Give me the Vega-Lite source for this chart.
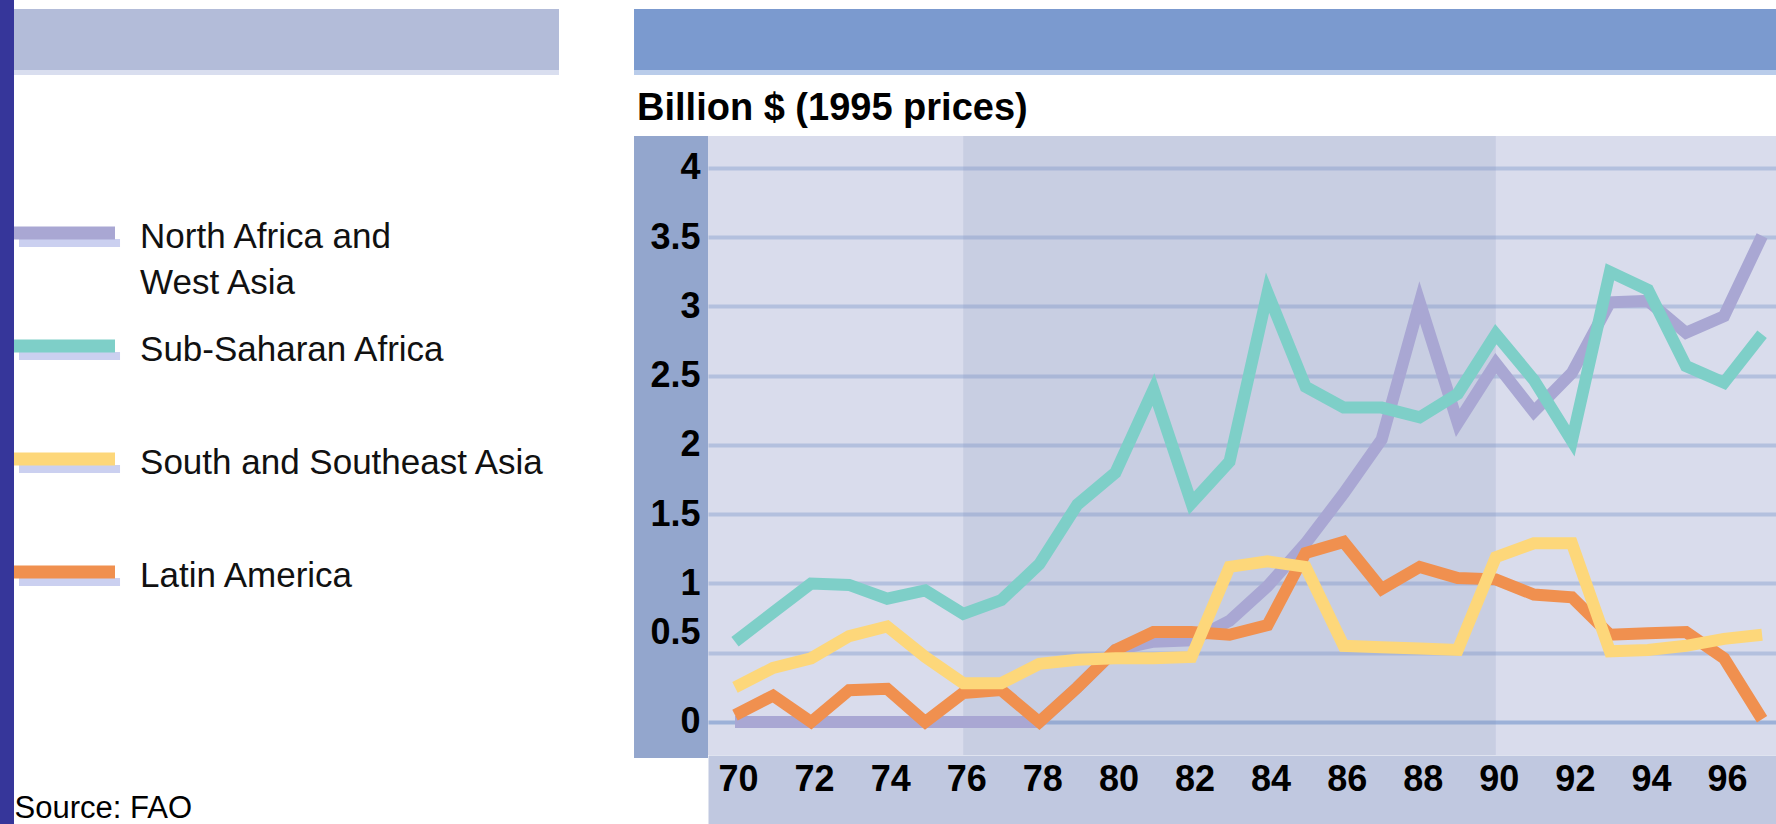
{
  "$schema": "https://vega.github.io/schema/vega-lite/v6.json",
  "autosize": {"type": "none"},
  "padding": {"left": 708, "top": 136, "right": 0, "bottom": 69},
  "width": 1068,
  "height": 619,
  "background": "white",
  "config": {"view": {"stroke": null, "fill": "#D9DCEC"}, "font": "Liberation Sans"},
  "datasets": {
    "exports": [
      {"year": 70, "region": "North Africa and West Asia", "value": 0},
      {"year": 71, "region": "North Africa and West Asia", "value": 0},
      {"year": 72, "region": "North Africa and West Asia", "value": 0},
      {"year": 73, "region": "North Africa and West Asia", "value": 0},
      {"year": 74, "region": "North Africa and West Asia", "value": 0},
      {"year": 75, "region": "North Africa and West Asia", "value": 0},
      {"year": 76, "region": "North Africa and West Asia", "value": 0},
      {"year": 77, "region": "North Africa and West Asia", "value": 0},
      {"year": 78, "region": "North Africa and West Asia", "value": 0},
      {"year": 79, "region": "North Africa and West Asia", "value": 0.25},
      {"year": 80, "region": "North Africa and West Asia", "value": 0.52},
      {"year": 81, "region": "North Africa and West Asia", "value": 0.58},
      {"year": 82, "region": "North Africa and West Asia", "value": 0.59},
      {"year": 83, "region": "North Africa and West Asia", "value": 0.73},
      {"year": 84, "region": "North Africa and West Asia", "value": 0.98},
      {"year": 85, "region": "North Africa and West Asia", "value": 1.29},
      {"year": 86, "region": "North Africa and West Asia", "value": 1.65},
      {"year": 87, "region": "North Africa and West Asia", "value": 2.04},
      {"year": 88, "region": "North Africa and West Asia", "value": 3.03},
      {"year": 89, "region": "North Africa and West Asia", "value": 2.16},
      {"year": 90, "region": "North Africa and West Asia", "value": 2.59},
      {"year": 91, "region": "North Africa and West Asia", "value": 2.24},
      {"year": 92, "region": "North Africa and West Asia", "value": 2.52},
      {"year": 93, "region": "North Africa and West Asia", "value": 3.03},
      {"year": 94, "region": "North Africa and West Asia", "value": 3.04},
      {"year": 95, "region": "North Africa and West Asia", "value": 2.81},
      {"year": 96, "region": "North Africa and West Asia", "value": 2.93},
      {"year": 97, "region": "North Africa and West Asia", "value": 3.51},
      {"year": 70, "region": "Sub-Saharan Africa", "value": 0.58},
      {"year": 71, "region": "Sub-Saharan Africa", "value": 0.79},
      {"year": 72, "region": "Sub-Saharan Africa", "value": 1.0},
      {"year": 73, "region": "Sub-Saharan Africa", "value": 0.99},
      {"year": 74, "region": "Sub-Saharan Africa", "value": 0.89},
      {"year": 75, "region": "Sub-Saharan Africa", "value": 0.95},
      {"year": 76, "region": "Sub-Saharan Africa", "value": 0.78},
      {"year": 77, "region": "Sub-Saharan Africa", "value": 0.88},
      {"year": 78, "region": "Sub-Saharan Africa", "value": 1.14},
      {"year": 79, "region": "Sub-Saharan Africa", "value": 1.57},
      {"year": 80, "region": "Sub-Saharan Africa", "value": 1.8},
      {"year": 81, "region": "Sub-Saharan Africa", "value": 2.4},
      {"year": 82, "region": "Sub-Saharan Africa", "value": 1.58},
      {"year": 83, "region": "Sub-Saharan Africa", "value": 1.88},
      {"year": 84, "region": "Sub-Saharan Africa", "value": 3.1},
      {"year": 85, "region": "Sub-Saharan Africa", "value": 2.42},
      {"year": 86, "region": "Sub-Saharan Africa", "value": 2.27},
      {"year": 87, "region": "Sub-Saharan Africa", "value": 2.27},
      {"year": 88, "region": "Sub-Saharan Africa", "value": 2.2},
      {"year": 89, "region": "Sub-Saharan Africa", "value": 2.37},
      {"year": 90, "region": "Sub-Saharan Africa", "value": 2.8},
      {"year": 91, "region": "Sub-Saharan Africa", "value": 2.47},
      {"year": 92, "region": "Sub-Saharan Africa", "value": 2.03},
      {"year": 93, "region": "Sub-Saharan Africa", "value": 3.25},
      {"year": 94, "region": "Sub-Saharan Africa", "value": 3.12},
      {"year": 95, "region": "Sub-Saharan Africa", "value": 2.57},
      {"year": 96, "region": "Sub-Saharan Africa", "value": 2.45},
      {"year": 97, "region": "Sub-Saharan Africa", "value": 2.8},
      {"year": 70, "region": "Latin America", "value": 0.05},
      {"year": 71, "region": "Latin America", "value": 0.19},
      {"year": 72, "region": "Latin America", "value": 0.0},
      {"year": 73, "region": "Latin America", "value": 0.23},
      {"year": 74, "region": "Latin America", "value": 0.24},
      {"year": 75, "region": "Latin America", "value": 0.0},
      {"year": 76, "region": "Latin America", "value": 0.21},
      {"year": 77, "region": "Latin America", "value": 0.23},
      {"year": 78, "region": "Latin America", "value": 0.0},
      {"year": 79, "region": "Latin America", "value": 0.25},
      {"year": 80, "region": "Latin America", "value": 0.52},
      {"year": 81, "region": "Latin America", "value": 0.65},
      {"year": 82, "region": "Latin America", "value": 0.65},
      {"year": 83, "region": "Latin America", "value": 0.63},
      {"year": 84, "region": "Latin America", "value": 0.7},
      {"year": 85, "region": "Latin America", "value": 1.22},
      {"year": 86, "region": "Latin America", "value": 1.3},
      {"year": 87, "region": "Latin America", "value": 0.96},
      {"year": 88, "region": "Latin America", "value": 1.12},
      {"year": 89, "region": "Latin America", "value": 1.04},
      {"year": 90, "region": "Latin America", "value": 1.03},
      {"year": 91, "region": "Latin America", "value": 0.92},
      {"year": 92, "region": "Latin America", "value": 0.9},
      {"year": 93, "region": "Latin America", "value": 0.63},
      {"year": 94, "region": "Latin America", "value": 0.64},
      {"year": 95, "region": "Latin America", "value": 0.65},
      {"year": 96, "region": "Latin America", "value": 0.46},
      {"year": 97, "region": "Latin America", "value": 0.02},
      {"year": 70, "region": "South and Southeast Asia", "value": 0.25},
      {"year": 71, "region": "South and Southeast Asia", "value": 0.39},
      {"year": 72, "region": "South and Southeast Asia", "value": 0.46},
      {"year": 73, "region": "South and Southeast Asia", "value": 0.62},
      {"year": 74, "region": "South and Southeast Asia", "value": 0.69},
      {"year": 75, "region": "South and Southeast Asia", "value": 0.47},
      {"year": 76, "region": "South and Southeast Asia", "value": 0.28},
      {"year": 77, "region": "South and Southeast Asia", "value": 0.28},
      {"year": 78, "region": "South and Southeast Asia", "value": 0.42},
      {"year": 79, "region": "South and Southeast Asia", "value": 0.45},
      {"year": 80, "region": "South and Southeast Asia", "value": 0.46},
      {"year": 81, "region": "South and Southeast Asia", "value": 0.46},
      {"year": 82, "region": "South and Southeast Asia", "value": 0.47},
      {"year": 83, "region": "South and Southeast Asia", "value": 1.12},
      {"year": 84, "region": "South and Southeast Asia", "value": 1.16},
      {"year": 85, "region": "South and Southeast Asia", "value": 1.12},
      {"year": 86, "region": "South and Southeast Asia", "value": 0.55},
      {"year": 87, "region": "South and Southeast Asia", "value": 0.54},
      {"year": 88, "region": "South and Southeast Asia", "value": 0.53},
      {"year": 89, "region": "South and Southeast Asia", "value": 0.52},
      {"year": 90, "region": "South and Southeast Asia", "value": 1.19},
      {"year": 91, "region": "South and Southeast Asia", "value": 1.29},
      {"year": 92, "region": "South and Southeast Asia", "value": 1.29},
      {"year": 93, "region": "South and Southeast Asia", "value": 0.51},
      {"year": 94, "region": "South and Southeast Asia", "value": 0.52},
      {"year": 95, "region": "South and Southeast Asia", "value": 0.55},
      {"year": 96, "region": "South and Southeast Asia", "value": 0.6},
      {"year": 97, "region": "South and Southeast Asia", "value": 0.63}
    ],
    "legendItems": [
      {"region": "North Africa and West Asia", "label": "North Africa and\nWest Asia"},
      {"region": "Sub-Saharan Africa", "label": "Sub-Saharan Africa"},
      {"region": "South and Southeast Asia", "label": "South and Southeast Asia"},
      {"region": "Latin America", "label": "Latin America"}
    ]
  },
  "resolve": {"scale": {"y": "independent"}},
  "layer": [
    {
      "resolve": {"axis": {"y": "independent", "x": "independent"}},
      "layer": [
        {
          "data": {"values": [{}]},
          "mark": {"type": "rect", "color": "#36369A"},
          "encoding": {
            "x": {"datum": 50.6, "axis": null}, "x2": {"datum": 51.046},
            "y": {"datum": 5.3, "axis": null}, "y2": {"datum": -0.8}
          }
        },
        {
          "data": {"values": [{}]},
          "mark": {"type": "rect", "color": "#B3BCD9"},
          "encoding": {
            "x": {"datum": 51.046, "axis": null}, "x2": {"datum": 65.373},
            "y": {"datum": 5.148, "axis": null}, "y2": {"datum": 4.7076}
          }
        },
        {
          "data": {"values": [{}]},
          "mark": {"type": "rect", "color": "#D9DEEF"},
          "encoding": {
            "x": {"datum": 51.046, "axis": null}, "x2": {"datum": 65.373},
            "y": {"datum": 4.7076, "axis": null}, "y2": {"datum": 4.6715}
          }
        },
        {
          "data": {"values": [{}]},
          "mark": {"type": "rect", "color": "#7B9ACF"},
          "encoding": {
            "x": {"datum": 67.345, "axis": null}, "x2": {"datum": 97.366},
            "y": {"datum": 5.148, "axis": null}, "y2": {"datum": 4.7076}
          }
        },
        {
          "data": {"values": [{}]},
          "mark": {"type": "rect", "color": "#B9CCEA"},
          "encoding": {
            "x": {"datum": 67.345, "axis": null}, "x2": {"datum": 97.366},
            "y": {"datum": 4.7076, "axis": null}, "y2": {"datum": 4.6715}
          }
        },
        {
          "data": {"values": [{}]},
          "mark": {"type": "rect", "color": "#93A6CD"},
          "encoding": {
            "x": {"datum": 67.345, "axis": null}, "x2": {"datum": 69.29},
            "y": {"datum": 4.231, "axis": null}, "y2": {"datum": -0.26}
          }
        },
        {
          "data": {"values": [{}]},
          "mark": {"type": "rect", "color": "#8996BF", "opacity": 0.2},
          "encoding": {
            "x": {
              "datum": 76,
              "axis": {
                "orient": "bottom", "values": [70, 96], "labels": false, "ticks": false, "grid": false,
                "domain": true, "domainColor": "#C0C8E0", "domainWidth": 69, "offset": 34.5,
                "title": null, "zindex": 0
              }
            },
            "x2": {"datum": 90},
            "y": {
              "datum": 4.231,
              "axis": {
                "orient": "left", "values": [0, 0.5, 1, 1.5, 2, 2.5, 3, 3.5, 4],
                "grid": true, "labels": false, "ticks": false, "domain": false, "title": null,
                "gridColor": {"condition": {"test": "datum.value === 0", "value": "#9CB1D8"}, "value": "#B3C0DE"},
                "gridWidth": 4, "zindex": 0
              }
            },
            "y2": {"datum": -0.2383}
          }
        },
        {
          "data": {"name": "exports"},
          "mark": {"type": "line", "strokeWidth": 12, "strokeJoin": "miter", "strokeCap": "butt"},
          "encoding": {
            "x": {
              "field": "year", "type": "quantitative",
              "scale": {"domain": [69.29, 97.366], "nice": false, "zero": false},
              "axis": {
                "values": [70, 72, 74, 76, 78, 80, 82, 84, 86, 88, 90, 92, 94, 96],
                "orient": "bottom", "grid": false, "ticks": false, "domain": false,
                "labelPadding": 7, "labelFont": "Liberation Sans", "labelFontSize": 36,
                "labelFontWeight": "bold", "labelColor": "#000000",
                "labelFlush": false, "labelOverlap": false, "labelOffset": 3, "title": null, "zindex": 2
              }
            },
            "y": {
              "field": "value", "type": "quantitative",
              "scale": {"domain": [-0.2383, 4.231], "nice": false, "zero": false},
              "axis": {
                "values": [0, 0.5, 1, 1.5, 2, 2.5, 3, 3.5, 4],
                "format": "~g", "orient": "left", "grid": false, "ticks": false, "domain": false,
                "labelPadding": 8, "labelFont": "Liberation Sans", "labelFontSize": 36,
                "labelFontWeight": "bold", "labelColor": "#000000", "labelBaseline": "middle",
                "labelOffset": {"condition": {"test": "datum.value === 0.5", "value": -20}, "value": 0},
                "labelFlush": false, "labelOverlap": false, "title": null, "zindex": 1
              }
            },
            "color": {
              "field": "region", "type": "nominal",
              "scale": {
                "domain": ["North Africa and West Asia", "Sub-Saharan Africa", "South and Southeast Asia", "Latin America"],
                "range": ["#A9A7D3", "#7ECFC8", "#FDD77A", "#F0904F"]
              },
              "legend": null
            }
          }
        },
        {
          "data": {"values": [{}]},
          "mark": {"type": "text", "text": "Billion $ (1995 prices)", "align": "left", "baseline": "alphabetic", "fontSize": 38, "fontWeight": "bold", "font": "Liberation Sans", "color": "#000000"},
          "encoding": {"x": {"datum": 67.424, "axis": null}, "y": {"datum": 4.345, "axis": null}}
        },
        {
          "data": {"values": [{}]},
          "mark": {"type": "text", "text": "Source: FAO", "align": "left", "baseline": "alphabetic", "fontSize": 31, "font": "Liberation Sans", "color": "#000000"},
          "encoding": {"x": {"datum": 51.06, "axis": null}, "y": {"datum": -0.693, "axis": null}}
        }
      ]
    },
    {
      "data": {"name": "legendItems"},
      "layer": [
        {
          "mark": {"type": "rule", "strokeWidth": 8, "strokeCap": "butt", "color": "#CBD0F0"},
          "encoding": {
            "x": {"datum": 51.177, "axis": null}, "x2": {"datum": 53.833},
            "y": {"field": "region", "type": "nominal", "axis": null,
                  "scale": {"type": "point", "domain": ["North Africa and West Asia", "Sub-Saharan Africa", "South and Southeast Asia", "Latin America"], "range": [97, 436], "padding": 0}},
            "yOffset": {"value": 10}
          }
        },
        {
          "mark": {"type": "rule", "strokeWidth": 13, "strokeCap": "butt"},
          "encoding": {
            "x": {"datum": 51.046, "axis": null}, "x2": {"datum": 53.701},
            "y": {"field": "region", "type": "nominal", "axis": null,
                  "scale": {"type": "point", "domain": ["North Africa and West Asia", "Sub-Saharan Africa", "South and Southeast Asia", "Latin America"], "range": [97, 436], "padding": 0}},
            "color": {"field": "region", "type": "nominal", "legend": null}
          }
        },
        {
          "mark": {"type": "text", "align": "left", "baseline": "alphabetic", "dy": 15, "fontSize": 35, "lineHeight": 46, "lineBreak": "\n", "font": "Liberation Sans", "color": "#111111"},
          "encoding": {
            "x": {"datum": 54.359, "axis": null},
            "y": {"field": "region", "type": "nominal", "axis": null,
                  "scale": {"type": "point", "domain": ["North Africa and West Asia", "Sub-Saharan Africa", "South and Southeast Asia", "Latin America"], "range": [97, 436], "padding": 0}},
            "text": {"field": "label", "type": "nominal"}
          }
        }
      ]
    }
  ]
}
